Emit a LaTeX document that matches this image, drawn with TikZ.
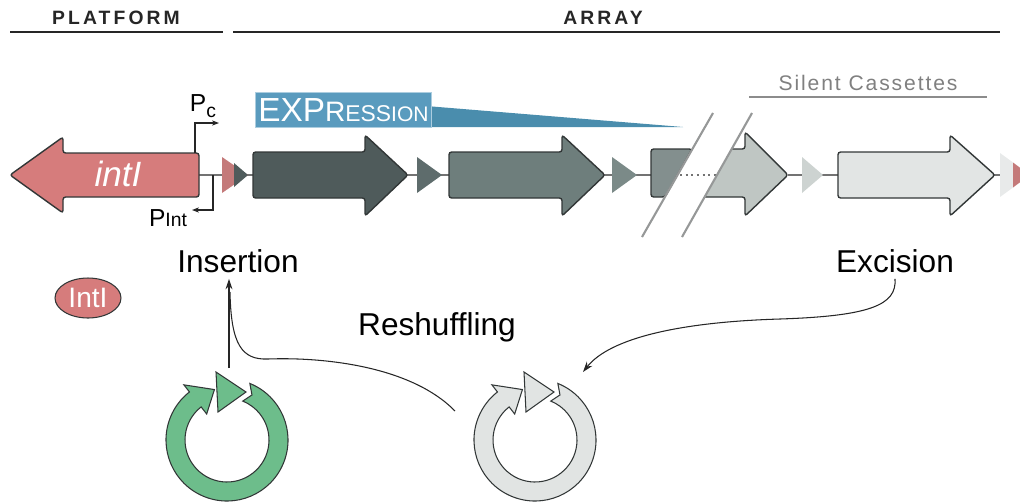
\documentclass[tikz,border=0pt]{standalone}
\usepackage{fontspec}
\setmainfont{Liberation Sans}
\newfontfamily\headfont[LetterSpace=16]{Liberation Sans}
\newfontfamily\silentfont[LetterSpace=9]{Liberation Sans}
\usepackage{tikz}
\usetikzlibrary{arrows.meta, positioning, shapes.geometric}
\definecolor{intred}{RGB}{214, 124, 124}
\definecolor{attred}{RGB}{196, 122, 122}
\definecolor{outline}{RGB}{50, 55, 55}
\definecolor{casA}{RGB}{79, 91, 91}
\definecolor{casB}{RGB}{110, 126, 124}
\definecolor{casC}{RGB}{131, 143, 142}
\definecolor{casD}{RGB}{191, 198, 195}
\definecolor{casE}{RGB}{226, 229, 228}
\definecolor{attA}{RGB}{94, 108, 108}
\definecolor{attB}{RGB}{123, 138, 136}
\definecolor{attC}{RGB}{205, 211, 209}
\definecolor{attD}{RGB}{232, 234, 234}
\definecolor{exprblue}{RGB}{74, 141, 173}
\definecolor{exprbox}{RGB}{90, 155, 190}
\definecolor{ringgreen}{RGB}{109, 189, 139}
\definecolor{ringgrey}{RGB}{225, 228, 227}
\definecolor{slash}{RGB}{150, 152, 152}
\tikzset{
  gene/.style={draw=outline, line width=0.8pt, rounded corners=1.5pt},
  ring/.style={draw=outline, line width=0.6pt},
  bigtext/.style={font=\fontsize{18}{18}\selectfont},
  link/.style={draw=black!85, line width=0.6pt},
  promoter/.style={draw=black!85, line width=0.6pt, -{Stealth[length=4pt, width=3pt]}},
}
% gene arrow: left x, head x, tip x, colour
\newcommand{\genearrow}[4]{%
  \filldraw[gene, fill=#4] (#1,152) -- (#2,152) -- (#2,135) -- (#3,175) -- (#2,216) -- (#2,198) -- (#1,198) -- cycle;}
% recombination site: left x, tip x, colour
\newcommand{\site}[3]{%
  \fill[#3] (#1,157) -- (#2,175) -- (#1,193) -- cycle;}
% circular cassette: centre, colour
\newcommand{\circcassette}[2]{%
  \begin{scope}[shift={#1}, yscale=-1]
    \filldraw[ring, fill=#2] (68:61) arc[start angle=68, end angle=-232, radius=61]
      -- (-232:70) -- (104:52) -- (-232:33) -- (-232:42)
      arc[start angle=-232, end angle=68, radius=42] -- (61:51.5) -- cycle;
    \filldraw[ring, fill=#2] (-11,68) -- (19,48) -- (-9,28) -- cycle;
  \end{scope}}

\begin{document}
\begin{tikzpicture}[x=0.02cm, y=-0.02cm]
    \useasboundingbox (0,0) rectangle (1020,501);

    % platform / array
    \node[font=\headfont\bfseries\fontsize{11}{11}\selectfont, text=black!85] (platform) at (116,18) {PLATFORM};
    \node[font=\headfont\bfseries\fontsize{11}{11}\selectfont, text=black!85] (array) at (603,18) {ARRAY};
    \draw[black!85, line width=1.2pt] (10,32) -- (223,32);
    \draw[black!85, line width=1.2pt] (233,32) -- (1000,32);
    \node[font=\silentfont\fontsize{12}{12}\selectfont, text=black!50] (silent) at (868,83) {Silent Cassettes};
    \draw[black!45, line width=0.8pt] (749,97) -- (987,97);

    % expression gradient
    \fill[exprblue] (255,92) -- (683,127) -- (255,127) -- cycle;
    \filldraw[fill=exprbox, draw=exprbox!50] (255,92) rectangle (431,127);
    \node[anchor=west, text=white, inner sep=0pt] (expr) at (258,110)
      {\fontsize{19}{19}\selectfont EXP\fontsize{16}{16}\selectfont R\fontsize{13}{13}\selectfont ESS\fontsize{12}{12}\selectfont ION};

    % backbone
    \draw[black!55, line width=1.2pt] (199,175) -- (652,175);
    \draw[black!55, line width=1.2pt, dotted] (680,175) -- (716,175);
    \draw[black!55, line width=1.2pt] (788,175) -- (1020,175);

    % intI and promoters
    \filldraw[gene, fill=intred] (199,153) -- (63,153) -- (63,137) -- (10,175) -- (63,213) -- (63,197) -- (199,197) -- cycle;
    \node[text=white, font=\itshape\fontsize{20}{20}\selectfont] (intI) at (118,174) {intI};
    \draw[promoter] (195,153) -- (195,123) -- (219,123);
    \node (pc) at (203,106) {\fontsize{14}{14}\selectfont P\raisebox{-3pt}{\fontsize{11}{11}\selectfont c}};
    \draw[promoter] (213,175) -- (213,210) -- (192,210);
    \node (pint) at (168,218) {\fontsize{14}{14}\selectfont P\fontsize{11}{11}\selectfont Int};

    % attI and cassettes
    \site{222}{248}{attred}
    \fill[casA] (234,163) -- (248,175) -- (234,187) -- cycle;
    \genearrow{253}{365}{408}{casA}
    \site{417}{442}{attA}
    \genearrow{449}{562}{605}{casB}
    \site{612}{637}{attB}
    \filldraw[gene, fill=casC] (651,149) -- (692,149) -- (665,197) -- (651,197) -- cycle;
    \filldraw[gene, fill=casD] (732,149) -- (745,149) -- (745,132) -- (788,175) -- (745,216) -- (745,197) -- (705,197);
    \site{802}{823}{attC}
    \genearrow{838}{950}{995}{casE}
    \fill[attD] (1000,153) -- (1013,162.5) -- (1013,187.5) -- (1000,197) -- cycle;
    \fill[attred] (1013,162.5) -- (1020,167.7) -- (1020,182.3) -- (1013,187.5) -- cycle;

    % break
    \draw[slash, line width=1.2pt] (642,237) -- (713,113);
    \draw[slash, line width=1.2pt] (682,237) -- (752,113);

    % labels
    \node[bigtext] (insertion) at (238,261) {Insertion};
    \node[bigtext] (excision) at (895,261) {Excision};
    \node[bigtext] (reshuffling) at (437,327) {Reshuffling};
    \node[ellipse, draw=outline, fill=intred, line width=0.6pt, minimum width=1.32cm, minimum height=0.8cm,
          inner sep=0pt, text=white, font=\fontsize{16}{16}\selectfont] (IntI) at (88,298) {IntI};

    % circular cassettes
    \coordinate (green) at (227,440);
    \coordinate (grey) at (535,440);
    \circcassette{(green)}{ringgreen}
    \circcassette{(grey)}{ringgrey}

    % arrows
    \coordinate (gtop) at (229,368);
    \coordinate (rsfrom) at (455,411);
    \coordinate (rsto) at (230,292);
    \coordinate (exto) at (583,372);
    \draw[link, -{Stealth[length=6pt, width=4pt]}] (gtop) -- (gtop |- insertion.south);
    \draw[link] (rsfrom) .. controls (410,365) and (320,357) .. (268,359)
      .. controls (242,360) and (231,345) .. (rsto);
    \draw[link, -{Stealth[length=6pt, width=4pt]}] (excision.south) .. controls (897,305) and (870,316) .. (780,319)
      .. controls (680,322) and (610,338) .. (exto);
\end{tikzpicture}
\end{document}
